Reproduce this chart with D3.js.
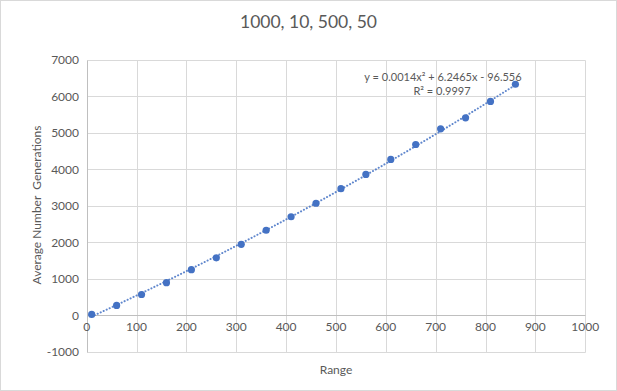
<!DOCTYPE html>
<html><head><meta charset="utf-8">
<script src="https://cdn.jsdelivr.net/npm/d3@7"></script>
<style>body{margin:0;background:#fff}svg{display:block}text{font-family:Lato,"Open Sans",sans-serif;fill:#595959}</style>
</head><body><svg id="c" width="617" height="391"></svg>
<script>
const rangeX = [10,60,110,160,210,260,310,360,410,460,510,560,610,660,710,760,810,860];
const avgGenerations = [25,270,570,895,1250,1575,1945,2330,2700,3070,3470,3860,4270,4680,5110,5410,5860,6330];
const xTicks = [0,100,200,300,400,500,600,700,800,900,1000];
const yTicks = [-1000,0,1000,2000,3000,4000,5000,6000,7000];
const trendCoefs = [-96.556, 6.2465, 0.0014];
const title = "1000, 10, 500, 50";
const eqText = "y = 0.0014x² + 6.2465x - 96.556";
const r2Text = "R² = 0.9997";

const svg = d3.select("#c");
const W=617,H=391;
svg.append("rect").attr("x",0.5).attr("y",0.5).attr("width",W-1).attr("height",H-1).attr("fill","#fff").attr("stroke","#d9d9d9");

const x = d3.scaleLinear().domain([0,1000]).range([86.7,585.2]);
const y = d3.scaleLinear().domain([-1000,7000]).range([351.8,59.8]);
const px = v=>Math.round(x(v))+0.5, py=v=>Math.round(y(v))+0.5;

const g = svg.append("g");
g.selectAll(".hg").data(yTicks).join("line").attr("x1",px(0)).attr("x2",px(1000))
 .attr("y1",py).attr("y2",py).attr("stroke","#d9d9d9").attr("stroke-width",1);
g.selectAll(".vg").data(xTicks).join("line").attr("y1",py(7000)).attr("y2",py(-1000))
 .attr("x1",px).attr("x2",px).attr("stroke","#d9d9d9").attr("stroke-width",1);
g.append("line").attr("x1",px(0)).attr("x2",px(1000)).attr("y1",py(0)).attr("y2",py(0)).attr("stroke","#bfbfbf");
g.append("line").attr("x1",px(0)).attr("x2",px(0)).attr("y1",py(7000)).attr("y2",py(-1000)).attr("stroke","#bfbfbf");

g.selectAll(".yl").data(yTicks).join("text").attr("x",79).attr("y",d=>y(d)+4.5)
 .attr("text-anchor","end").attr("font-size",12).text(d=>d);
g.selectAll(".xl").data(xTicks).join("text").attr("x",d=>x(d)).attr("y",y(0)+16)
 .attr("text-anchor","middle").attr("font-size",12).text(d=>d);

svg.append("text").attr("x",308.5).attr("y",28).attr("text-anchor","middle").attr("font-size",17.5).text(title);
svg.append("text").attr("x",336).attr("y",374).attr("text-anchor","middle").attr("font-size",12).text("Range");
svg.append("text").attr("transform","translate(41,205) rotate(-90)").attr("text-anchor","middle").attr("font-size",12)
 .style("white-space","pre").text("Average Number  Generations");

const tx = d3.range(rangeX[0], rangeX[rangeX.length-1]+0.001, 5);
const f = v=>trendCoefs[0]+trendCoefs[1]*v+trendCoefs[2]*v*v;
const line = d3.line().x(d=>x(d)).y(d=>y(f(d)));
svg.append("path").datum(tx).attr("d",line).attr("fill","none").attr("stroke","#4472c4")
 .attr("stroke-width",2).attr("stroke-dasharray","0.1 3.2").attr("stroke-linecap","round").attr("opacity",0.85);

svg.selectAll(".pt").data(rangeX).join("circle").attr("cx",d=>x(d)).attr("cy",(d,i)=>y(avgGenerations[i]))
 .attr("r",3.6).attr("fill","#4472c4");

svg.append("text").attr("x",443).attr("y",81).attr("text-anchor","middle").attr("font-size",11).text(eqText);
svg.append("text").attr("x",442).attr("y",95).attr("text-anchor","middle").attr("font-size",11).text(r2Text);
</script></body></html>
